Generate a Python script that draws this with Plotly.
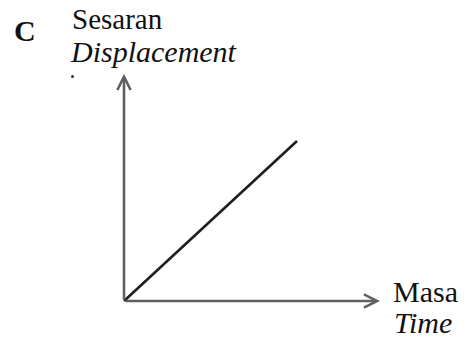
import plotly.graph_objects as go

# Data (arbitrary units): linear displacement-time graph
time = [0, 10]
displacement = [0, 10]
x_axis_end = 14.8
y_axis_end = 14.2

W, H = 464, 339
ox, oy = 124, 301          # origin in figure pixels
kx, ky = 17.3, 16.0        # pixels per unit

fig = go.Figure()
fig.add_trace(go.Scatter(x=time, y=displacement, mode="lines",
                         line=dict(color="#1e1e1e", width=2.6),
                         hoverinfo="skip", showlegend=False))

axis_col = "#606060"
fig.add_annotation(x=x_axis_end, y=0, ax=0, ay=0, xref="x", yref="y", axref="x", ayref="y",
                   showarrow=True, arrowhead=5, arrowsize=1, arrowwidth=2.6, arrowcolor=axis_col, text="")
fig.add_annotation(x=0, y=y_axis_end, ax=0, ay=0, xref="x", yref="y", axref="x", ayref="y",
                   showarrow=True, arrowhead=5, arrowsize=1, arrowwidth=2.6, arrowcolor=axis_col, text="")

def px(xp):
    return xp / W
def py(yp):
    return 1 - yp / H

font = "Liberation Serif"
labels = [
    ("<b>C</b>", 12, 31, "normal", 30),
    ("Sesaran", 70, 19, "normal", 29),
    ("Displacement", 68, 51, "italic", 30),
    ("Masa", 391, 291, "normal", 30),
    ("Time", 392, 322, "italic", 30),
]
for txt, xp, yp, style, size in labels:
    fig.add_annotation(x=px(xp), y=py(yp), xref="paper", yref="paper", text=txt,
                       showarrow=False, xanchor="left", yanchor="middle",
                       font=dict(family=font, size=size, color="#111", style=style))

# small stray dot under the label
fig.add_shape(type="circle", xref="paper", yref="paper",
              x0=px(71), x1=px(74), y0=py(78), y1=py(75),
              fillcolor="#333", line=dict(width=0))

fig.update_xaxes(range=[-ox / kx, (W - ox) / kx], visible=False, fixedrange=True)
fig.update_yaxes(range=[-(H - oy) / ky, oy / ky], visible=False, fixedrange=True)
fig.update_layout(width=W, height=H, margin=dict(l=0, r=0, t=0, b=0),
                  plot_bgcolor="white", paper_bgcolor="white")

fig.write_html("out.html", config={"displayModeBar": False},
               post_script="document.body.style.margin='0';")
